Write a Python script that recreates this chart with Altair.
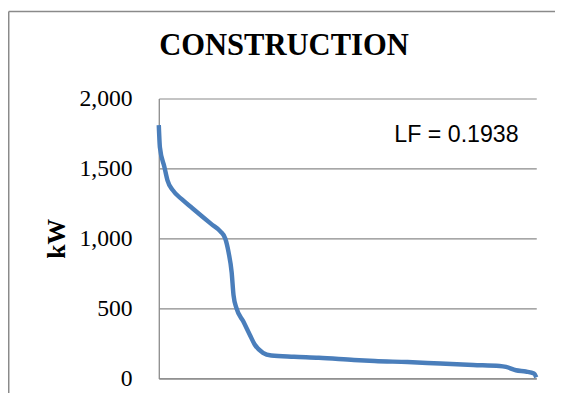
import altair as alt
import pandas as pd

# Load duration curve (percent of time vs kW)
pct = [0, 0.3, 1.5, 2.3, 3.7, 6.3, 8.9, 11.5, 14.1, 16.3, 17.6, 18.5, 19.3, 19.8,
       20.6, 22.4, 24.1, 25.4, 27.6, 29.8, 35.8, 42.4, 51.7, 57.2, 65.9, 74.6,
       83.3, 90.3, 92.0, 94.6, 97.2, 99.4, 100]
kw = [1810, 1650, 1509, 1415, 1345, 1275, 1216, 1157, 1099, 1051, 1000, 899, 758,
      594, 500, 406, 312, 242, 183, 164, 155, 148, 132, 124, 117, 106, 96, 89, 82,
      58, 49, 35, 8]
y_ticks = [0, 500, 1000, 1500, 2000]
title_text = "CONSTRUCTION"
note_text = "LF = 0.1938"
y_title = "kW"

df = pd.DataFrame({"pct": pct, "kw": kw})
one = pd.DataFrame({"a": [0]})

W, H = 383, 284
PAD = {"left": 153, "top": 89, "right": 19, "bottom": 12}
GRAY = "#8a8a8a"

line = alt.Chart(df).mark_line(
    color="#4a7ebb", strokeWidth=4.5, interpolate="monotone"
).encode(
    x=alt.X("pct:Q", scale=alt.Scale(domain=[0, 100], nice=False),
            axis=alt.Axis(labels=False, ticks=False, grid=False, domain=True,
                          domainColor=GRAY, domainWidth=1.3, title=None)),
    y=alt.Y("kw:Q", scale=alt.Scale(domain=[0, 2000], nice=False),
            axis=alt.Axis(values=y_ticks, format=",.0f", ticks=False, grid=True,
                          gridColor=GRAY, gridWidth=1.2, domain=True,
                          domainColor=GRAY, domainWidth=1.3,
                          labelFont="Liberation Serif", labelFontSize=24,
                          labelColor="black", labelPadding=27,
                          title=y_title, titleFont="Liberation Serif",
                          titleFontWeight="bold", titleFontSize=26,
                          titleColor="black", titleAngle=270,
                          titleX=-96, titleY=142, titleAlign="center",
                          titleBaseline="alphabetic")),
)

border_left = alt.Chart(one).mark_rule(color=GRAY, strokeWidth=1.5).encode(
    x=alt.value(-152.25), y=alt.value(-88.25), y2=alt.value(300))
border_top = alt.Chart(one).mark_rule(color=GRAY, strokeWidth=1.5).encode(
    x=alt.value(-152.25), x2=alt.value(402), y=alt.value(-88.25))

title = alt.Chart(one).mark_text(
    font="Liberation Serif", fontWeight="bold", fontSize=31, color="black",
    align="center", baseline="alphabetic"
).encode(x=alt.value(127), y=alt.value(-44), text=alt.value(title_text))

note = alt.Chart(one).mark_text(
    font="Liberation Sans", fontSize=23.5, color="black",
    align="left", baseline="alphabetic"
).encode(x=alt.value(239), y=alt.value(44), text=alt.value(note_text))

chart = alt.layer(line, border_left, border_top, title, note).properties(
    width=W, height=H, padding=PAD,
    autosize=alt.AutoSizeParams(type="none"),
    background="white",
).configure_view(strokeWidth=0)

chart.save("out.html", embed_options={"renderer": "svg", "actions": False})
